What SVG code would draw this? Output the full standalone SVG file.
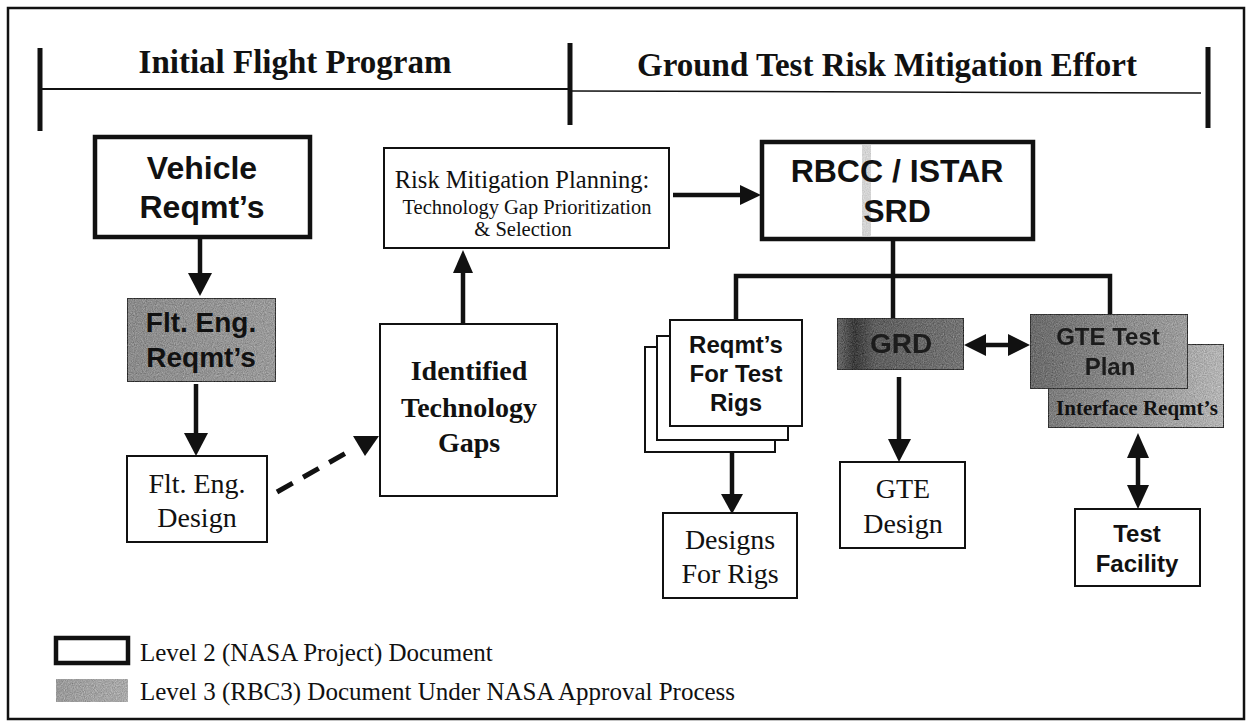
<svg xmlns="http://www.w3.org/2000/svg" width="1246" height="724" viewBox="0 0 1246 724">
<style>
.thick{fill:#fff;stroke:#111;stroke-width:4.5}
.thin{fill:#fff;stroke:#111;stroke-width:2}
.gbox{stroke:#333;stroke-width:2}
.sans{font-family:"Liberation Sans",Arial,sans-serif;font-weight:bold;fill:#111;text-anchor:middle}
.serif{font-family:"Liberation Serif","Times New Roman",serif;fill:#111;text-anchor:middle}
.sb{font-weight:bold}
.start{text-anchor:start}
.line{stroke:#111;stroke-width:4.5;fill:none}
.head{fill:#111;stroke:none}
.dash{stroke:#111;stroke-width:5;fill:none;stroke-dasharray:18 12}
.rule{stroke:#111;fill:none}
</style>
<defs>
<filter id="grain" x="0" y="0" width="100%" height="100%" color-interpolation-filters="sRGB">
<feTurbulence type="fractalNoise" baseFrequency="0.9" numOctaves="2" seed="5" result="noise"/>
<feColorMatrix in="noise" type="matrix" values="0.33 0.33 0.33 0 0  0.33 0.33 0.33 0 0  0.33 0.33 0.33 0 0  0 0 0 0 1" result="gnoise"/>
<feComposite in="SourceGraphic" in2="gnoise" operator="arithmetic" k1="0" k2="1" k3="0.55" k4="-0.27" result="mix"/>
<feComposite in="mix" in2="SourceGraphic" operator="in"/>
</filter>
<linearGradient id="gFlt" x1="0" y1="0" x2="1" y2="0">
<stop offset="0" stop-color="#8a8a8a"/><stop offset="1" stop-color="#999"/>
</linearGradient>
<linearGradient id="gGrd" x1="0" y1="0" x2="1" y2="0">
<stop offset="0" stop-color="#6a6a6a"/><stop offset="0.14" stop-color="#3a3a3a"/><stop offset="0.3" stop-color="#5e5e5e"/><stop offset="1" stop-color="#747474"/>
</linearGradient>
<linearGradient id="gPlan" x1="0" y1="0" x2="1" y2="0">
<stop offset="0" stop-color="#6a6a6a"/><stop offset="0.6" stop-color="#8a8a8a"/><stop offset="1" stop-color="#9c9c9c"/>
</linearGradient>
<linearGradient id="gIface" x1="0" y1="0" x2="1" y2="0">
<stop offset="0" stop-color="#7a7a7a"/><stop offset="0.6" stop-color="#9a9a9a"/><stop offset="1" stop-color="#b4b4b4"/>
</linearGradient>
<linearGradient id="gLeg" x1="0" y1="0" x2="1" y2="0">
<stop offset="0" stop-color="#999"/><stop offset="1" stop-color="#a8a8a8"/>
</linearGradient>
</defs>

<rect x="0" y="0" width="1246" height="724" fill="#fff"/>
<rect x="8" y="8" width="1236" height="711" fill="none" stroke="#111" stroke-width="2.5"/>

<g id="header">
<line class="rule" x1="40" y1="48" x2="40" y2="131" stroke-width="5"/>
<line class="rule" x1="570" y1="43" x2="570" y2="125" stroke-width="5"/>
<line class="rule" x1="1208" y1="47" x2="1208" y2="128" stroke-width="5"/>
<line class="rule" x1="40" y1="89" x2="570" y2="89" stroke-width="2"/>
<line class="rule" x1="572" y1="91" x2="1201" y2="93" stroke-width="1.5"/>
<text class="serif sb" x="295" y="73" font-size="33">Initial Flight Program</text>
<text class="serif sb" x="887" y="76" font-size="33">Ground Test Risk Mitigation Effort</text>
</g>

<g id="connectors">
<line class="line" x1="200" y1="237" x2="200" y2="274"/>
<polygon class="head" points="188,273 212,273 200,296"/>
<line class="line" x1="196" y1="384" x2="196" y2="434"/>
<polygon class="head" points="184,433 208,433 196,456"/>
<line class="dash" x1="277" y1="492" x2="353" y2="449"/>
<polygon class="head" points="353,436 365,456 379,436"/>
<line class="line" x1="463" y1="324" x2="463" y2="272"/>
<polygon class="head" points="453,273 473,273 463,250"/>
<line class="line" x1="673" y1="195" x2="741" y2="195"/>
<polygon class="head" points="740,185 740,205 761,195"/>
<polyline class="line" points="893,239 893,276"/>
<polyline class="line" points="736,320 736,276 1110,276 1110,314"/>
<line class="line" x1="893" y1="276" x2="893" y2="318"/>
<line class="line" x1="732" y1="452" x2="732" y2="495"/>
<polygon class="head" points="721,494 743,494 732,514"/>
<line class="line" x1="899" y1="377" x2="899" y2="440"/>
<polygon class="head" points="888,439 911,439 899,462"/>
<line class="line" x1="984" y1="345" x2="1009" y2="345"/>
<polygon class="head" points="964,345 986,334 986,356"/>
<polygon class="head" points="1030,345 1008,334 1008,356"/>
<line class="line" x1="1138" y1="456" x2="1138" y2="487"/>
<polygon class="head" points="1138,433 1127,458 1149,458"/>
<polygon class="head" points="1138,509 1127,485 1149,485"/>
</g>

<g id="vehicle">
<rect class="thick" x="95" y="137" width="215" height="100"/>
<text class="sans" x="202" y="179" font-size="32">Vehicle</text>
<text class="sans" x="202" y="218" font-size="32">Reqmt’s</text>
</g>

<g id="flt-eng-reqmts">
<rect class="gbox" x="127" y="298" width="149" height="84" fill="url(#gFlt)" filter="url(#grain)"/>
<text class="sans" x="201" y="332" font-size="28">Flt. Eng.</text>
<text class="sans" x="201" y="367" font-size="28">Reqmt’s</text>
</g>

<g id="flt-eng-design">
<rect class="thin" x="127" y="456" width="140" height="86"/>
<text class="serif" x="197" y="493" font-size="28">Flt. Eng.</text>
<text class="serif" x="197" y="527" font-size="28">Design</text>
</g>

<g id="identified-gaps">
<rect class="thin" x="380" y="324" width="177" height="172"/>
<text class="serif sb" x="469" y="380" font-size="28">Identified</text>
<text class="serif sb" x="469" y="417" font-size="28">Technology</text>
<text class="serif sb" x="469" y="452" font-size="28">Gaps</text>
</g>

<g id="risk-planning">
<rect class="thin" x="384" y="148" width="285" height="100"/>
<text class="serif" x="522" y="188" font-size="24.5">Risk Mitigation Planning:</text>
<text class="serif" x="527" y="214" font-size="20.5">Technology Gap Prioritization</text>
<text class="serif" x="523" y="236" font-size="20.5">&amp; Selection</text>
</g>

<g id="rbcc-srd">
<rect class="thick" x="762" y="142" width="271" height="97"/>
<rect x="862" y="145" width="9" height="91" fill="#b0b0b0" opacity="0.55" filter="url(#grain)"/>
<text class="sans" x="897" y="182" font-size="32">RBCC / ISTAR</text>
<text class="sans" x="897" y="222" font-size="32">SRD</text>
</g>

<g id="reqmts-test-rigs">
<rect class="thin" x="645" y="347" width="130" height="105" stroke-width="2.5"/>
<rect class="thin" x="657" y="336" width="131" height="104" stroke-width="2.5"/>
<rect class="thin" x="670" y="320" width="132" height="106" stroke-width="2.5"/>
<text class="sans" x="736" y="353" font-size="24">Reqmt’s</text>
<text class="sans" x="736" y="382" font-size="24">For Test</text>
<text class="sans" x="736" y="411" font-size="24">Rigs</text>
</g>

<g id="designs-rigs">
<rect class="thin" x="663" y="513" width="134" height="85"/>
<text class="serif" x="730" y="549" font-size="28">Designs</text>
<text class="serif" x="730" y="583" font-size="28">For Rigs</text>
</g>

<g id="grd">
<rect class="gbox" x="837" y="318" width="127" height="52" fill="url(#gGrd)" filter="url(#grain)"/>
<text class="sans" x="901" y="353" font-size="28" fill="#1e1e1e" opacity="0.85">GRD</text>
</g>

<g id="gte-design">
<rect class="thin" x="840" y="462" width="125" height="86"/>
<text class="serif" x="903" y="498" font-size="28">GTE</text>
<text class="serif" x="903" y="533" font-size="28">Design</text>
</g>

<g id="interface-reqmts">
<rect class="gbox" x="1048" y="344" width="176" height="84" fill="url(#gIface)" filter="url(#grain)"/>
<text class="serif sb" x="1137" y="415" font-size="21" fill="#1e1e1e">Interface Reqmt’s</text>
</g>

<g id="gte-test-plan">
<rect class="gbox" x="1030" y="314" width="158" height="75" fill="url(#gPlan)" filter="url(#grain)"/>
<text class="sans" x="1108" y="345" font-size="24" fill="#222" opacity="0.9">GTE Test</text>
<text class="sans" x="1110" y="375" font-size="24" fill="#222" opacity="0.9">Plan</text>
</g>

<g id="test-facility">
<rect class="thin" x="1075" y="509" width="125" height="77"/>
<text class="sans" x="1137" y="542" font-size="24">Test</text>
<text class="sans" x="1137" y="572" font-size="24">Facility</text>
</g>

<g id="legend">
<rect class="thick" x="56" y="638" width="72" height="25" stroke-width="4"/>
<text class="serif start" x="140" y="661" font-size="25">Level 2 (NASA Project) Document</text>
<rect x="56" y="679" width="72" height="23" fill="url(#gLeg)" filter="url(#grain)"/>
<text class="serif start" x="140" y="700" font-size="25">Level 3 (RBC3) Document Under NASA Approval Process</text>
</g>
</svg>
